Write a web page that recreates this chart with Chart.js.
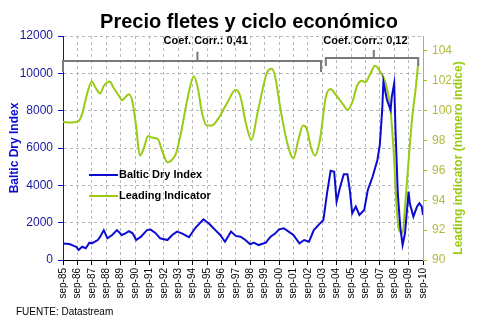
<!DOCTYPE html>
<html>
<head>
<meta charset="utf-8">
<script src="https://cdn.jsdelivr.net/npm/chart.js@4.4.0/dist/chart.umd.min.js"></script>
<style>
  html, body { margin: 0; padding: 0; background: #fff; }
</style>
</head>
<body>
<canvas id="myChart" width="480" height="323"></canvas>
<script>
const titleText = 'Precio fletes y ciclo económico';
const sourceText = 'FUENTE: Datastream';
const leftTitle = 'Baltic Dry Index';
const rightTitle = 'Leading indicator (número indice)';

// months counted from sep-85
const bdiMonths = [0, 3, 6, 9, 11, 13, 16, 19, 22, 24, 27, 29, 31, 34, 37, 41, 45, 49, 52, 55, 58, 61, 65, 70, 73, 77, 81, 87, 91, 95, 99, 105, 110, 117, 122, 127, 131, 135, 140, 144, 148, 152, 156, 159, 163, 169, 173, 177, 180, 184, 188, 192, 197, 201, 205, 209, 213, 217, 220, 223, 226, 228, 231, 234, 237, 239, 241, 244, 247, 251, 254, 258, 262, 264, 266, 267, 270, 273, 274, 276, 277, 279, 281, 283, 285, 288, 289, 292, 295, 297, 299, 300];
const bdiValues = [880, 870, 840, 760, 710, 540, 710, 630, 930, 890, 1000, 1070, 1250, 1600, 1160, 1340, 1600, 1340, 1430, 1550, 1430, 1070, 1250, 1600, 1630, 1450, 1160, 1070, 1340, 1520, 1430, 1220, 1700, 2180, 1930, 1600, 1340, 980, 1520, 1290, 1250, 1070, 840, 930, 800, 930, 1250, 1430, 1640, 1700, 1520, 1340, 890, 1070, 980, 1600, 1880, 2140, 3570, 4780, 4730, 3130, 3930, 4600, 4600, 3750, 2500, 2860, 2410, 2680, 3750, 4460, 5360, 6160, 8040, 9550, 8570, 8040, 8750, 9460, 7140, 3570, 1790, 800, 1430, 3660, 3040, 2320, 2860, 3040, 2860, 2410];

const liMonths = [0, 6, 13, 16, 20, 24, 27, 31, 34, 39, 42, 47, 49, 55, 58, 61, 64, 67, 71, 74, 79, 83, 87, 90, 94, 98, 104, 109, 112, 116, 120, 124, 130, 137, 144, 148, 152, 157, 162, 166, 170, 174, 177, 181, 187, 192, 196, 200, 203, 207, 210, 214, 219, 223, 227, 234, 237, 241, 245, 249, 252, 256, 260, 264, 269, 273, 276, 278, 280, 283, 285, 288, 291, 294, 296];
const liValues = [99.25, 99.2, 99.3, 99.8, 101.1, 101.95, 101.55, 101.15, 101.65, 101.95, 101.55, 100.95, 100.7, 101.1, 100.55, 98.9, 97.0, 97.4, 98.3, 98.2, 98.1, 97.2, 96.55, 96.65, 97.1, 98.4, 100.9, 102.3, 101.65, 99.8, 99.0, 99.0, 99.55, 100.55, 101.4, 100.9, 99.3, 98.05, 99.8, 101.3, 102.55, 102.8, 102.2, 100.2, 97.8, 96.8, 98.0, 99.0, 98.8, 97.45, 97.0, 98.0, 100.9, 101.45, 101.1, 100.35, 100.05, 100.55, 101.65, 102.0, 101.9, 102.45, 103.0, 102.65, 101.8, 100.0, 96.65, 93.55, 92.0, 91.8, 93.55, 96.65, 99.55, 101.55, 103.2];

// correlation brackets (months from sep-85)
const corrLabels = ['Coef. Corr.: 0,41', 'Coef. Corr.: 0,12'];
const corrFrom = [0, 219];
const corrTo = [215, 296];
const corrMid = [112, 259];
const corrLabelAt = [119, 252];

const blue = '#0c0cd0';
const blueText = '#1a1a9c';
const green = '#9acb14';
const greenText = '#b4ba3c';
const gridGray = '#b8b8b8';

Chart.defaults.font.family = "'Liberation Sans', Arial, sans-serif";

const extras = {
  id: 'extras',
  afterDraw(chart) {
    const { ctx, chartArea, scales } = chart;
    const x = scales.x, y = scales.y;
    ctx.save();

    // title
    ctx.fillStyle = '#000';
    ctx.font = "bold 20px 'Liberation Sans', Arial, sans-serif";
    ctx.textAlign = 'center';
    ctx.textBaseline = 'middle';
    ctx.fillText(titleText, 249, 22);

    // source
    ctx.font = "10px 'Liberation Sans', Arial, sans-serif";
    ctx.textAlign = 'left';
    ctx.fillText(sourceText, 16, 312);

    // axis titles
    ctx.font = "bold 12px 'Liberation Sans', Arial, sans-serif";
    ctx.textAlign = 'center';
    ctx.save();
    ctx.translate(15, (chartArea.top + chartArea.bottom) / 2);
    ctx.rotate(-Math.PI / 2);
    ctx.fillStyle = blue;
    ctx.fillText(leftTitle, 0, 0);
    ctx.restore();
    ctx.save();
    ctx.translate(459, (chartArea.top + chartArea.bottom) / 2 + 10);
    ctx.rotate(-Math.PI / 2);
    ctx.fillStyle = green;
    ctx.fillText(rightTitle, 0, 0);
    ctx.restore();

    // brackets
    const levels = [[10660, 10070, 11150], [10820, 10390, 11250]];
    ctx.strokeStyle = '#7a7a7a';
    ctx.lineWidth = 2;
    corrLabels.forEach((label, i) => {
      const x0 = x.getPixelForValue(corrFrom[i]);
      const x1 = x.getPixelForValue(corrTo[i]);
      const xm = x.getPixelForValue(corrMid[i]);
      const [lv, ev, tv] = levels[i];
      ctx.beginPath();
      ctx.moveTo(x0, y.getPixelForValue(ev));
      ctx.lineTo(x0, y.getPixelForValue(lv));
      ctx.lineTo(x1, y.getPixelForValue(lv));
      ctx.lineTo(x1, y.getPixelForValue(ev));
      ctx.moveTo(xm, y.getPixelForValue(lv));
      ctx.lineTo(xm, y.getPixelForValue(tv));
      ctx.stroke();
      ctx.fillStyle = '#000';
      ctx.font = "bold 11px 'Liberation Sans', Arial, sans-serif";
      ctx.textAlign = 'center';
      ctx.fillText(label, x.getPixelForValue(corrLabelAt[i]), chartArea.top + 5);
    });

    // legend
    chart.data.datasets.forEach((ds, i) => {
      const ly = chartArea.top + 139 + i * 21;
      ctx.strokeStyle = ds.borderColor;
      ctx.lineWidth = 2;
      ctx.beginPath();
      ctx.moveTo(chartArea.left + 26, ly);
      ctx.lineTo(chartArea.left + 55, ly);
      ctx.stroke();
      ctx.fillStyle = '#000';
      ctx.font = "bold 11px 'Liberation Sans', Arial, sans-serif";
      ctx.textAlign = 'left';
      ctx.fillText(ds.label, chartArea.left + 56, ly);
    });
    ctx.restore();
  }
};

new Chart(document.getElementById('myChart'), {
  type: 'line',
  data: {
    datasets: [
      {
        label: 'Baltic Dry Index',
        data: bdiMonths.map((m, i) => ({ x: m, y: bdiValues[i] })),
        borderColor: blue,
        borderWidth: 2,
        pointRadius: 0,
        tension: 0,
        yAxisID: 'y'
      },
      {
        label: 'Leading Indicator',
        data: liMonths.map((m, i) => ({ x: m, y: liValues[i] })),
        borderColor: green,
        borderWidth: 2,
        pointRadius: 0,
        cubicInterpolationMode: 'monotone',
        yAxisID: 'y1'
      }
    ]
  },
  options: {
    responsive: false,
    animation: false,
    layout: { padding: { top: 36, left: 0, right: 0, bottom: 0 } },
    plugins: { legend: { display: false }, tooltip: { enabled: false }, title: { display: false } },
    scales: {
      x: {
        type: 'linear',
        min: 0,
        max: 300,
        afterFit: (s) => { s.height = 63; },
        grid: {
          color: (c) => (c.tick && (c.tick.value === 0 || c.tick.value === 300)) ? 'rgba(0,0,0,0)' : gridGray,
          tickColor: '#000',
          tickLength: 5
        },
        border: { color: '#000', width: 1, dash: [3, 3] },
        ticks: {
          stepSize: 12,
          autoSkip: false,
          minRotation: 90,
          maxRotation: 90,
          padding: 3,
          color: '#000',
          font: { size: 10 },
          callback: (v) => 'sep-' + String((85 + v / 12) % 100).padStart(2, '0')
        }
      },
      y: {
        position: 'left',
        min: 0,
        max: 12000,
        afterFit: (s) => { s.width = 63; },
        grid: {
          color: (c) => (c.tick && c.tick.value === 0) ? 'rgba(0,0,0,0)' : gridGray,
          tickColor: blue,
          tickLength: 5
        },
        border: { color: blue, width: 1, dash: [3, 3] },
        ticks: {
          stepSize: 2000,
          padding: 5,
          color: blueText,
          font: { size: 12 },
          callback: (v) => String(v)
        }
      },
      y1: {
        position: 'right',
        min: 90,
        max: 105,
        afterFit: (s) => { s.width = 57; },
        grid: { drawOnChartArea: false, tickColor: green, tickLength: 4 },
        border: { color: green, width: 1 },
        ticks: {
          stepSize: 2,
          padding: 5,
          color: greenText,
          font: { size: 12 },
          callback: (v) => (v % 2 === 0 ? String(v) : null)
        }
      }
    }
  },
  plugins: [extras]
});
</script>
</body>
</html>
